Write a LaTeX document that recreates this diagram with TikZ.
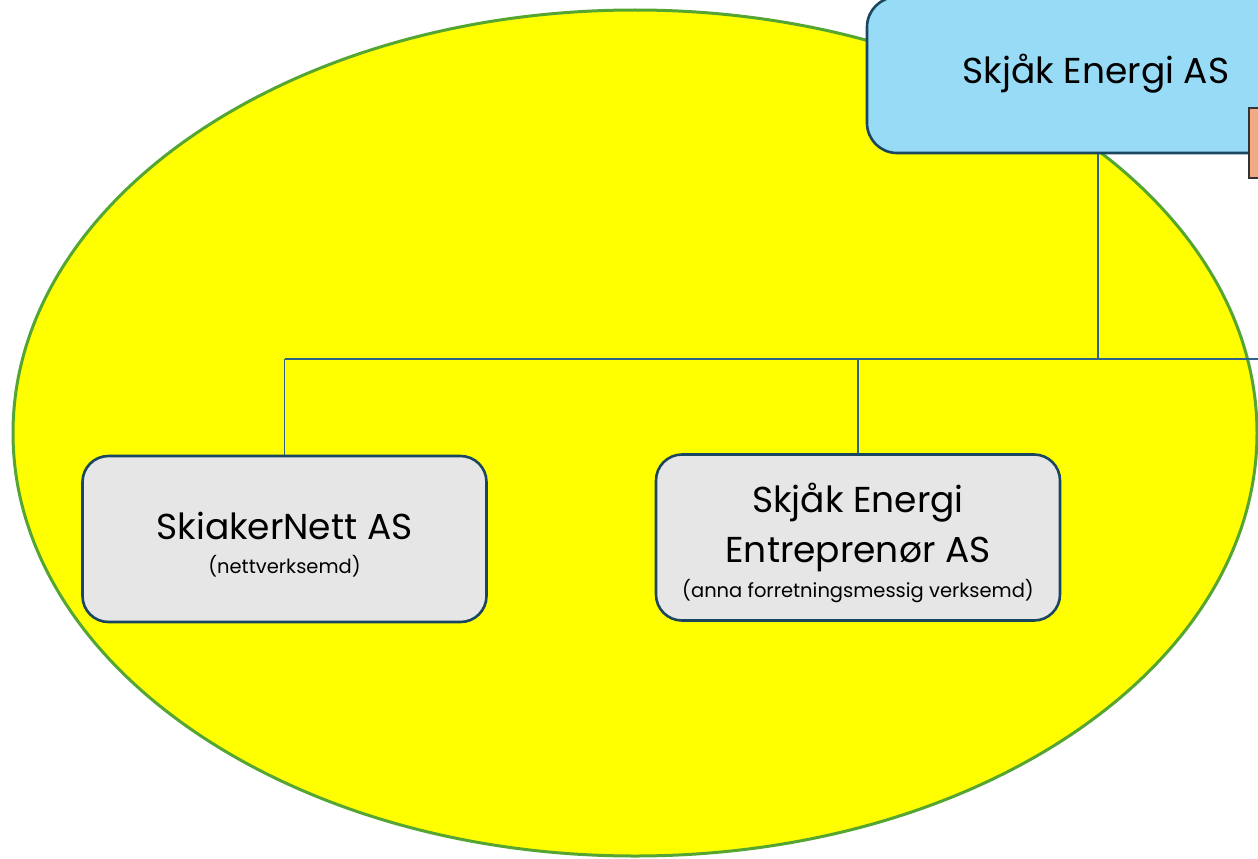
\documentclass[tikz,border=0pt]{standalone}
\usepackage{fontspec}
\setmainfont{Poppins}
\definecolor{ellyellow}{HTML}{FFFF00}
\definecolor{ellgreen}{HTML}{55A532}
\definecolor{topblue}{HTML}{97DBF6}
\definecolor{darkborder}{HTML}{1B4660}
\definecolor{linkblue}{HTML}{2E6388}
\definecolor{boxgray}{HTML}{E6E6E6}
\definecolor{boxorange}{HTML}{F2A985}
\tikzset{
  orgbox/.style={draw=darkborder, line width=2.6pt, rounded corners=26pt, fill=boxgray,
    inner sep=0pt, minimum width=404pt, minimum height=166pt},
  topbox/.style={draw=darkborder, line width=2.6pt, rounded corners=30pt, fill=topblue,
    inner sep=0pt, minimum width=462pt, minimum height=156pt},
  sidebox/.style={draw=black!80, line width=1.6pt, fill=boxorange, inner sep=0pt,
    minimum width=60pt, minimum height=70pt},
  link/.style={draw=linkblue, line width=1.6pt},
  bigtext/.style={font=\fontsize{36}{44}\selectfont, anchor=base, inner sep=0pt},
  smalltext/.style={font=\fontsize{19.5}{24}\selectfont, anchor=base, inner sep=0pt},
}
\begin{document}
\begin{tikzpicture}[x=1pt,y=-1pt]
\path[use as bounding box] (0,0) rectangle (1258,859);
\clip (0,0) rectangle (1258,859);
% background ellipse
\draw[fill=ellyellow, draw=ellgreen, line width=3pt] (635,433) ellipse [x radius=622, y radius=423];
% boxes
\node[topbox] (top) at (1098,75) {};
\node[bigtext] (toptxt) at (1096,83) {Skjåk Energi AS};
\node[sidebox, anchor=north west] (side) at (1248,107) {};
\node[orgbox] (nett) at (284.5,539) {};
\node[bigtext] (nettA) at (284.5,539) {SkiakerNett AS};
\node[smalltext] (nettB) at (284.5,573) {(nettverksemd)};
\node[orgbox] (entr) at (858,537.5) {};
\node[bigtext] (entrA) at (858,512) {Skjåk Energi};
\node[bigtext] (entrB) at (858,562) {Entreprenør AS};
\node[smalltext] (entrC) at (858,597) {(anna forretningsmessig verksemd)};
% connectors
\coordinate (busL) at (284.5,359);
\coordinate (busR) at (1275,359);
\coordinate (busTop) at (1098,359);
\coordinate (busE) at (858,359);
\draw[link] (top.south) -- (busTop);
\draw[link] (busL) -- (busR);
\draw[link] (busL) -- (nett.north);
\draw[link] (busE) -- (entr.north);
\end{tikzpicture}
\end{document}
